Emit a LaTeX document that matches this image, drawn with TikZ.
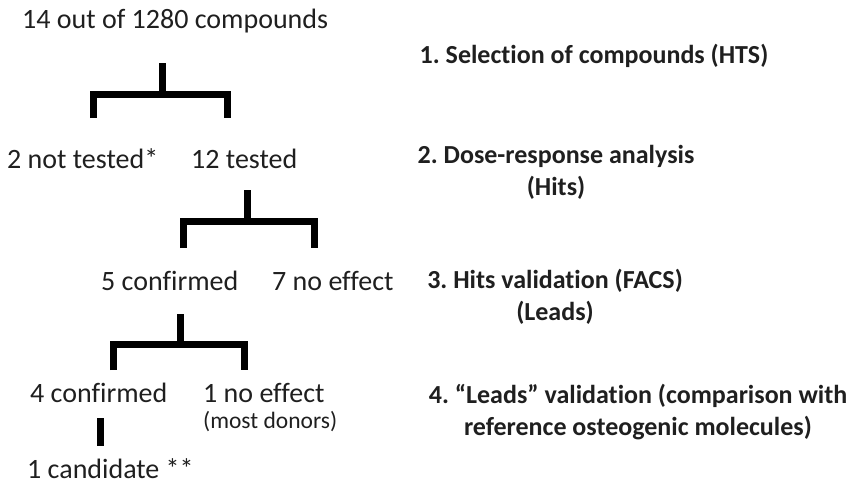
\documentclass[tikz,border=0pt]{standalone}
\usepackage{fontspec}
\setmainfont{Carlito}[Ligatures={TeX,NoCommon}]
\begin{document}
\frenchspacing
\begin{tikzpicture}[x=1pt,y=-1pt,
	bar/.style={line width=7pt},
	count/.style={font=\fontsize{28}{32}\selectfont,inner sep=0pt,anchor=base west,text=black!88},
	stage/.style={font=\fontsize{26}{32}\selectfont\bfseries,inner sep=0pt,anchor=base,align=center,text=black!88}]
	\useasboundingbox(0,0)rectangle(847,493);
	% counts
	\node[count](all)at(22,28){14 out of 1280 compounds};
	\node[count](nt)at(7,168){2 not tested*};
	\node[count](te)at(191,168){12 tested};
	\node[count](co5)at(101,290){5 confirmed};
	\node[count](ne7)at(272,290){7 no effect};
	\node[count](co4)at(30,402){4 confirmed};
	\node[count](ne1)at(203,402){1 no effect};
	\node[count,font=\fontsize{23.5}{26}\selectfont](don)at(203,428){(most donors)};
	\node[count](cand)at(27,478){1 candidate **};
	% stages (anchored on the last line)
	\node[stage](st1)at(594,63){1. Selection of compounds (HTS)};
	\node[stage](st2)at(556,195){2. Dose-response analysis\\(Hits)};
	\node[stage](st3)at(555,320){3. Hits validation (FACS)\\(Leads)};
	\node[stage](st4)at(638,435){4. ``Leads'' validation (comparison with\\reference osteogenic molecules)};
	% brackets
	\coordinate(b1)at(162,63);\coordinate(j1)at(162,94);
	\coordinate(b1l)at(93,118);\coordinate(b1r)at(227,118);
	\draw[bar](b1)--(j1);
	\draw[bar](b1l)|-(j1)-|(b1r);
	\coordinate(b2)at(247,190);\coordinate(j2)at(247,221);
	\coordinate(b2l)at(183,248);\coordinate(b2r)at(314,248);
	\draw[bar](b2)--(j2);
	\draw[bar](b2l)|-(j2)-|(b2r);
	\coordinate(b3)at(180,314);\coordinate(j3)at(180,344);
	\coordinate(b3l)at(113,370);\coordinate(b3r)at(244,370);
	\draw[bar](b3)--(j3);
	\draw[bar](b3l)|-(j3)-|(b3r);
	\coordinate(b4)at(100,418);\coordinate(b4e)at(100,446);
	\draw[bar](b4)--(b4e);
\end{tikzpicture}
\end{document}
